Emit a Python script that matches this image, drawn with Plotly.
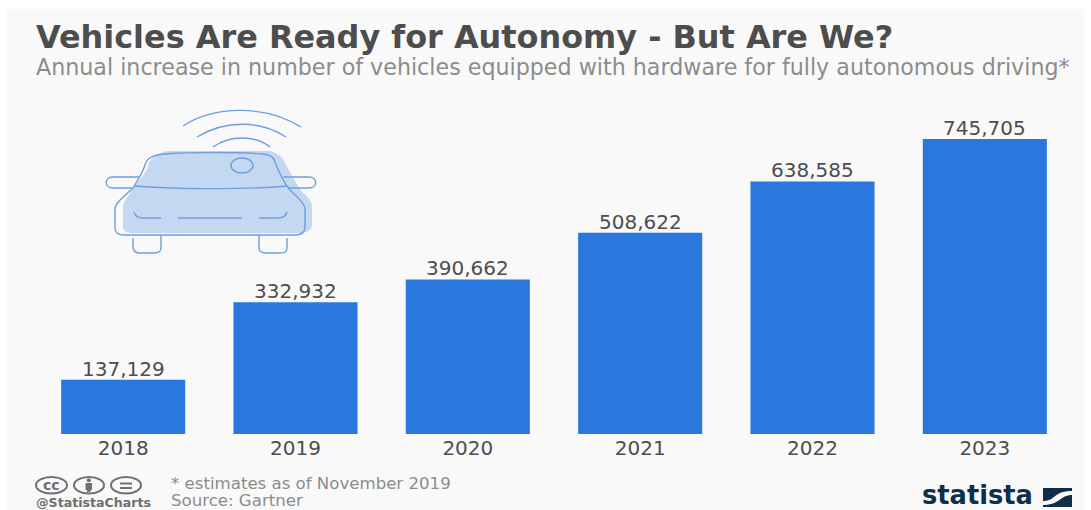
import plotly.graph_objects as go

W, H = 1091, 510

years = ["2018", "2019", "2020", "2021", "2022", "2023"]
vehicles = [137129, 332932, 390662, 508622, 638585, 745705]

BLUE = "#2a77e0"
GREY = "#4d4d4d"
MID = "#8c8c8c"
FONT = "DejaVu Sans"
LOGO = "#0f2e47"
PANEL = "#f9f9f9"
BADGE = "#707070"


def px(x):
    return x / W


def py(y):
    return 1 - y / H


def path(*cmds):
    """Build an SVG path in paper space from (command, x, y, ...) tuples in screen pixels."""
    out = []
    for c in cmds:
        op, pts = c[0], c[1:]
        coords = [f"{px(pts[i]):.5f},{py(pts[i + 1]):.5f}" for i in range(0, len(pts), 2)]
        out.append(op + " ".join(coords))
    return " ".join(out)


def stroke(d, color="#6f9fdc", width=1.4):
    return dict(type="path", xref="paper", yref="paper", path=d, line=dict(color=color, width=width), fillcolor="rgba(0,0,0,0)")


def solid(d, color):
    return dict(type="path", xref="paper", yref="paper", path=d, line=dict(width=0), fillcolor=color)


def box(x0, y0, x1, y1, color, layer="above"):
    return dict(type="rect", xref="paper", yref="paper", layer=layer, x0=px(x0), x1=px(x1), y0=py(y0), y1=py(y1),
                fillcolor=color, line=dict(width=0))


def ellipse(x0, y0, x1, y1, color="#6f9fdc", width=1.4, fill="rgba(0,0,0,0)"):
    return dict(type="circle", xref="paper", yref="paper", x0=px(x0), x1=px(x1), y0=py(y0), y1=py(y1),
                line=dict(color=color, width=width), fillcolor=fill)


shapes = [box(7, 9, 1084, 510, PANEL, layer="below")]

# Car icon: filled body offset from its outline
shapes.append(solid(path(("M", 123, 205), ("C", 126, 198, 130, 194, 133, 188), ("C", 140, 180, 146, 172, 148, 167),
                         ("C", 150, 158, 154, 154, 167, 151), ("L", 270, 151), ("C", 277, 153, 281, 156, 284, 161),
                         ("C", 290, 172, 296, 184, 303, 193), ("C", 308, 197, 312, 201, 312, 207),
                         ("L", 312, 226), ("C", 311, 231, 306, 233, 298, 233), ("L", 132, 233),
                         ("C", 126, 233, 123, 231, 123, 226), ("Z",)), "#c5d8f2"))

# Car icon: outline, mirrors, wheels
shapes += [
    stroke(path(("M", 115, 208), ("C", 116, 203, 122, 198, 133, 188), ("C", 138, 180, 143, 172, 145, 165),
                ("C", 147, 158, 152, 155, 165, 154), ("C", 190, 152, 240, 152, 262, 154),
                ("C", 272, 155, 274, 158, 275, 162), ("C", 280, 175, 285, 184, 290, 190),
                ("C", 296, 196, 304, 202, 305, 208), ("L", 305, 227), ("C", 305, 232, 302, 235, 295, 235),
                ("L", 124, 235), ("C", 118, 235, 115, 232, 115, 228), ("Z",))),
    stroke(path(("M", 134, 186), ("C", 170, 189, 240, 190, 287, 186))),
    stroke(path(("M", 139, 177), ("L", 113, 177), ("C", 104, 177, 104, 188, 113, 188), ("L", 132, 188))),
    stroke(path(("M", 283, 177), ("L", 309, 177), ("C", 318, 177, 318, 188, 309, 188), ("L", 288, 188))),
    stroke(path(("M", 133, 238), ("L", 133, 248), ("C", 134, 252, 136, 253, 140, 253), ("L", 154, 253),
                ("C", 159, 253, 161, 251, 161, 248), ("L", 161, 235))),
    stroke(path(("M", 259, 235), ("L", 259, 248), ("C", 259, 252, 262, 253, 266, 253), ("L", 280, 253),
                ("C", 285, 253, 287, 252, 287, 248), ("L", 287, 238))),
    stroke(path(("M", 134, 212), ("C", 135, 216, 138, 218, 143, 218), ("L", 161, 218))),
    stroke(path(("M", 178, 218), ("L", 242, 218))),
    stroke(path(("M", 259, 218), ("L", 278, 218), ("C", 283, 218, 286, 216, 287, 212))),
    ellipse(231, 158, 253, 173),
    # Signal arcs
    stroke(path(("M", 213, 147), ("C", 230, 135, 255, 135, 270, 147))),
    stroke(path(("M", 197, 137), ("C", 225, 120, 260, 120, 286, 137))),
    stroke(path(("M", 183, 126), ("C", 215, 105, 265, 105, 301, 127))),
]

# Creative Commons badges
for x0, x1 in ((36, 67), (74, 104), (111, 141)):
    shapes.append(ellipse(x0, 477, x1, 493.5, color=BADGE, width=2))
shapes += [
    box(120, 482.5, 132, 484.5, BADGE),
    box(120, 487, 132, 489, BADGE),
    ellipse(87, 478.8, 90.5, 481.8, color=BADGE, width=1, fill=BADGE),
    box(85.5, 483, 92, 490, BADGE),
    box(87, 490, 90.5, 492, BADGE),
]

# Statista mark
shapes.append(box(1043, 488, 1072, 507, LOGO))
shapes.append(solid(path(("M", 1043, 501), ("C", 1056, 501, 1053, 491, 1072, 491), ("L", 1072, 495),
                         ("C", 1060, 495, 1060, 505, 1043, 505), ("Z",)), PANEL))


def label(x, y, text, size, color, bold=False, anchor="left"):
    return dict(xref="paper", yref="paper", x=px(x), y=py(y), text=f"<b>{text}</b>" if bold else text,
                showarrow=False, xanchor=anchor, yanchor="middle",
                font=dict(family=FONT, size=size, color=color), borderpad=0, borderwidth=0)


annotations = [
    label(36, 37, "Vehicles Are Ready for Autonomy - But Are We?", 31.9, GREY, bold=True),
    label(36, 67, "Annual increase in number of vehicles equipped with hardware for fully autonomous driving*", 22.2, MID),
    label(171, 483, "* estimates as of November 2019", 16.6, MID),
    label(171, 500.5, "Source: Gartner", 16.6, MID),
    label(36, 502, "@StatistaCharts", 12.6, BADGE, bold=True),
    label(922, 495, "statista", 25.7, LOGO, bold=True),
    label(51.5, 484.5, "cc", 14, BADGE, bold=True, anchor="center"),
]

# Value labels sit just above each bar; x is the category's position on the axis
annotations += [
    dict(x=i, y=v, xref="x", yref="y", text=f"{v:,}", showarrow=False, xanchor="center", yanchor="bottom",
         yshift=-2, font=dict(family=FONT, size=20, color=GREY), borderpad=0)
    for i, v in enumerate(vehicles)
]

fig = go.Figure(
    go.Bar(
        x=years,
        y=vehicles,
        marker=dict(color=BLUE, line=dict(width=0)),
        width=0.72,
        cliponaxis=False,
        hoverinfo="x+y",
    )
)

fig.update_layout(
    width=W,
    height=H,
    autosize=False,
    paper_bgcolor="#ffffff",
    plot_bgcolor="rgba(0,0,0,0)",
    showlegend=False,
    margin=dict(l=0, r=0, t=0, b=0, pad=0),
    shapes=shapes,
    annotations=annotations,
    xaxis=dict(type="category", range=[-0.5, 5.5], domain=[37 / W, 1071 / W], showgrid=False, zeroline=False,
               showline=False, ticks="", automargin=False, tickfont=dict(family=FONT, size=20, color=GREY)),
    yaxis=dict(range=[0, 869600], domain=[1 - 434 / H, 1 - 90 / H], visible=False, showgrid=False, zeroline=False,
               automargin=False),
)

fig.write_html("out.html", config={"displayModeBar": False})
